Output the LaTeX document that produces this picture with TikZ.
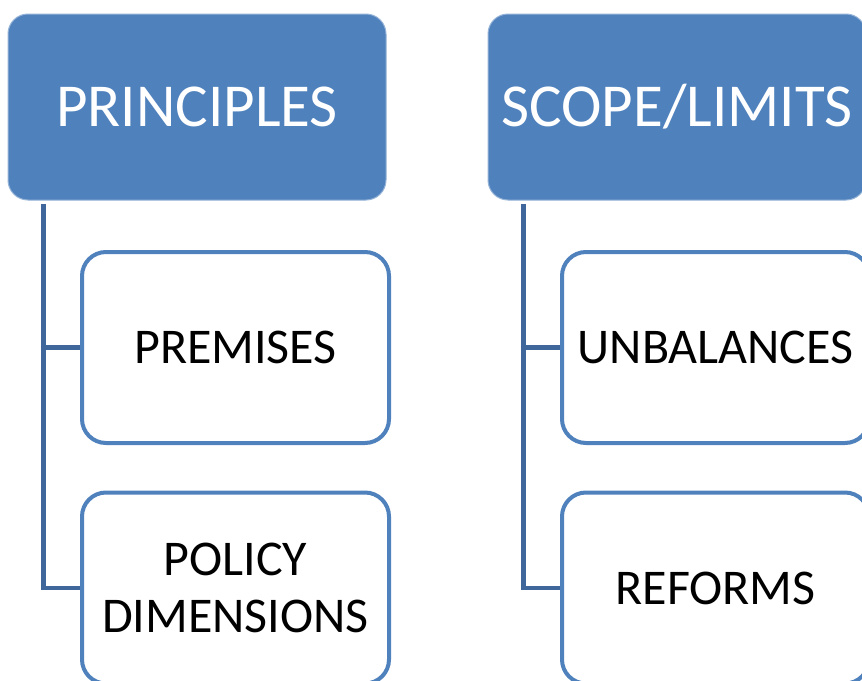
\documentclass[tikz,border=0pt]{standalone}
\usepackage{fontspec}
\setmainfont{Carlito}
\definecolor{accent}{HTML}{4F81BD}
\definecolor{linkblue}{HTML}{3F679B}
\begin{document}
\begin{tikzpicture}[x=1pt,y=-1pt,
        head/.style={rectangle,rounded corners=20pt,fill=accent,draw=accent!60!white,
            line width=1pt,minimum width=378pt,minimum height=186pt,inner sep=0pt,
            text=white,font=\fontsize{61}{70}\selectfont},
        leaf/.style={rectangle,rounded corners=24pt,fill=white,draw=accent,
            line width=4pt,minimum width=307pt,minimum height=191pt,inner sep=0pt,
            align=center,font=\fontsize{50}{57}\selectfont},
        link/.style={draw=linkblue,line width=4.5pt}]
    \useasboundingbox (0,0) rectangle (862,680);
    \clip (0,0) rectangle (862,680);

    \node[head] (principles) at (197,107) {PRINCIPLES};
    \node[leaf] (premises) at (235.5,347.5) {PREMISES};
    \node[leaf] (policy) at (235.5,588) {POLICY\\DIMENSIONS};

    \node[head] (scope) at (677,107) {SCOPE/LIMITS};
    \node[leaf] (unbalances) at (715.5,347.5) {UNBALANCES};
    \node[leaf] (reforms) at (715.5,588) {REFORMS};

    \coordinate (p0) at (43.5,204);
    \coordinate (s0) at (523.5,204);
    \draw[link] (p0) |- (premises.west);
    \draw[link] (p0) |- (policy.west);
    \draw[link] (s0) |- (unbalances.west);
    \draw[link] (s0) |- (reforms.west);
\end{tikzpicture}
\end{document}
